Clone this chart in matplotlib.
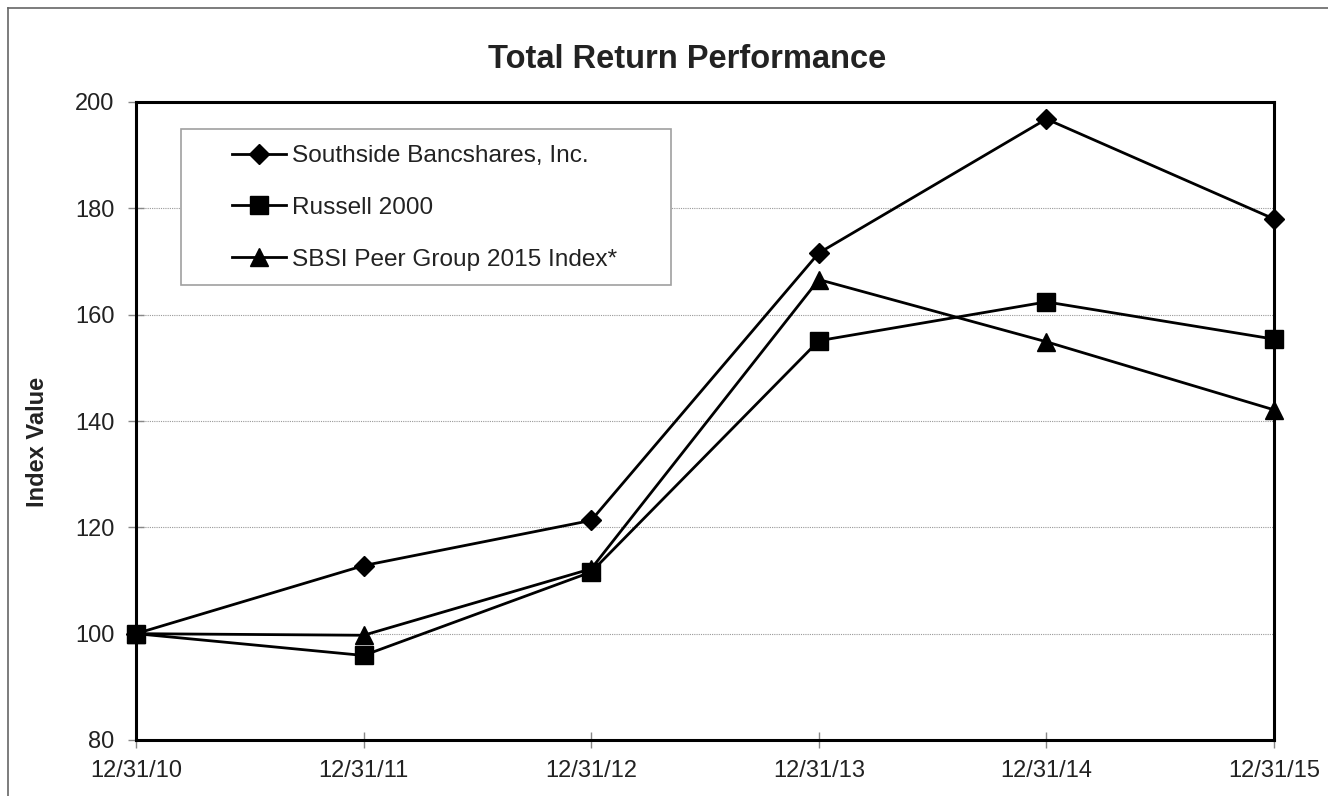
import matplotlib
matplotlib.use("Agg")
import matplotlib.pyplot as plt
from matplotlib.lines import Line2D
from matplotlib.patches import Rectangle

plt.rcParams['font.family'] = ['Liberation Sans', 'DejaVu Sans']

# %% Data
dates = ['12/31/10', '12/31/11', '12/31/12', '12/31/13', '12/31/14', '12/31/15']
southside = [100, 112.8, 121.3, 171.6, 196.8, 178.0]
russell = [100, 95.9, 111.6, 155.1, 162.4, 155.4]
peer = [100, 99.7, 112.2, 166.6, 154.9, 142.1]
labels = ['Southside Bancshares, Inc.', 'Russell 2000', 'SBSI Peer Group 2015 Index*']
yticks = [80, 100, 120, 140, 160, 180, 200]

# %% Figure
W, H = 1328, 796
fig = plt.figure(figsize=(W / 100, H / 100), dpi=100)
ax = fig.add_axes([136 / W, 1 - 740 / H, (1274 - 136) / W, (740 - 102) / H])

x = list(range(len(dates)))
txt = '#222222'
ax.plot(x, southside, color='black', lw=2.0, marker='D', ms=10.5, mew=1, label=labels[0], clip_on=False, zorder=3)
ax.plot(x, russell, color='black', lw=2.0, marker='s', ms=12.5, mew=1, label=labels[1], clip_on=False, zorder=3)
ax.plot(x, peer, color='black', lw=2.0, marker='^', ms=13, mew=1, label=labels[2], clip_on=False, zorder=3)

ax.set_xlim(0, len(dates) - 1)
ax.set_ylim(80, 200)
ax.set_xticks(x)
ax.set_xticklabels(dates)
ax.set_yticks(yticks)
ax.tick_params(direction='inout', length=11, width=1, color='#888888',
               labelsize=17, labelcolor=txt)
ax.tick_params(axis='y', pad=10)
ax.tick_params(axis='x', pad=9)
ax.grid(axis='y', color='#999999', lw=0.8, linestyle=(0, (1, 1)))
ax.set_axisbelow(True)
for s in ax.spines.values():
    s.set_linewidth(2.2)
    s.set_color('black')

# legend: no frame from matplotlib, box drawn by hand
leg = ax.legend(loc='upper left', bbox_to_anchor=((232 - 136) / (1274 - 136), (740 - 145) / (740 - 102)),
                frameon=False, fontsize=17.6, handlelength=2.2, handletextpad=0.25,
                labelspacing=1.22, borderpad=0, borderaxespad=0)
for t in leg.get_texts():
    t.set_color(txt)
ax.add_patch(Rectangle(((181 - 136) / (1274 - 136), (740 - 285) / (740 - 102)),
                       (671 - 181) / (1274 - 136), (285 - 129) / (740 - 102),
                       transform=ax.transAxes, fill=True, facecolor='white',
                       edgecolor='#a0a0a0', lw=1.2, zorder=2))

fig.text(687 / W, 1 - 60 / H, 'Total Return Performance', ha='center', va='center',
         fontsize=23.5, fontweight='bold', color=txt)
fig.text(38 / W, 1 - 442 / H, 'Index Value', ha='center', va='center', rotation=90,
         fontsize=17, fontweight='bold', color=txt)

# border of the picture (top and left only)
fig.add_artist(Line2D([8 / W, 1], [1 - 8 / H, 1 - 8 / H], color='#666666', lw=1.2))
fig.add_artist(Line2D([8 / W, 8 / W], [0, 1 - 8 / H], color='#666666', lw=1.2))

fig.savefig('out.png', dpi=100)
